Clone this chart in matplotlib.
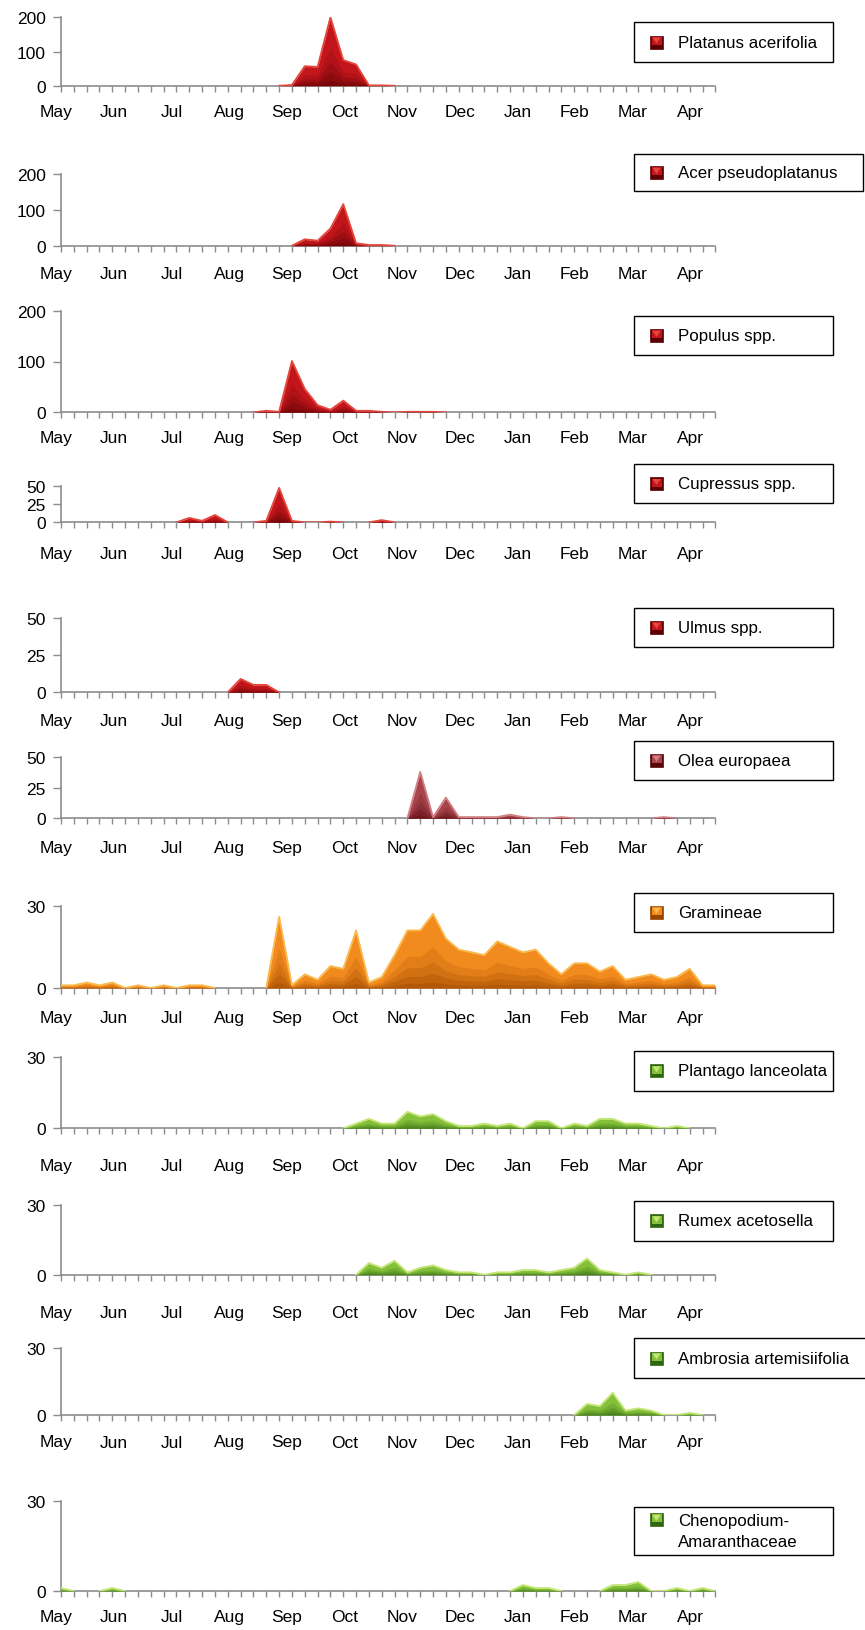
import numpy as np
import matplotlib
matplotlib.use("Agg")
import matplotlib.pyplot as plt
from matplotlib.patches import Rectangle, Polygon

plt.rcParams['font.family'] = ['Liberation Sans', 'DejaVu Sans']

# ---- data (weekly pollen counts, May -> Apr, 52 weeks) ----
months = ["May", "Jun", "Jul", "Aug", "Sep", "Oct", "Nov", "Dec", "Jan", "Feb", "Mar", "Apr"]

platanus = [0, 0, 0, 0, 0, 0, 0, 0, 0, 0, 0, 0, 0, 0, 0, 0, 0, 0, 2, 57,
            55, 200, 75, 62, 1, 1, 0, 0, 0, 0, 0, 0, 0, 0, 0, 0, 0, 0, 0, 0,
            0, 0, 0, 0, 0, 0, 0, 0, 0, 0, 0, 0]
acer = [0, 0, 0, 0, 0, 0, 0, 0, 0, 0, 0, 0, 0, 0, 0, 0, 0, 0, 0, 18,
        14, 48, 116, 7, 2, 2, 0, 0, 0, 0, 0, 0, 0, 0, 0, 0, 0, 0, 0, 0,
        0, 0, 0, 0, 0, 0, 0, 0, 0, 0, 0, 0]
populus = [0, 0, 0, 0, 0, 0, 0, 0, 0, 0, 0, 0, 0, 0, 0, 0, 3, 1, 101, 46,
           14, 5, 23, 3, 3, 1, 0, 1, 1, 1, 0, 0, 0, 0, 0, 0, 0, 0, 0, 0,
           0, 0, 0, 0, 0, 0, 0, 0, 0, 0, 0, 0]
cupressus = [0, 0, 0, 0, 0, 0, 0, 0, 0, 0, 6, 2, 10, 0, 0, 0, 2, 47, 2, 0,
             0, 1, 0, 0, 0, 3, 0, 0, 0, 0, 0, 0, 0, 0, 0, 0, 0, 0, 0, 0,
             0, 0, 0, 0, 0, 0, 0, 0, 0, 0, 0, 0]
ulmus = [0, 0, 0, 0, 0, 0, 0, 0, 0, 0, 0, 0, 0, 0, 9, 5, 5, 0, 0, 0,
         0, 0, 0, 0, 0, 0, 0, 0, 0, 0, 0, 0, 0, 0, 0, 0, 0, 0, 0, 0,
         0, 0, 0, 0, 0, 0, 0, 0, 0, 0, 0, 0]
olea = [0, 0, 0, 0, 0, 0, 0, 0, 0, 0, 0, 0, 0, 0, 0, 0, 0, 0, 0, 0,
        0, 0, 0, 0, 0, 0, 0, 0, 38, 1, 17, 1, 1, 1, 1, 3, 1, 0, 0, 1,
        0, 0, 0, 0, 0, 0, 0, 1, 0, 0, 0, 0]
gramineae = [1, 1, 2, 1, 2, 0, 1, 0, 1, 0, 1, 1, 0, 0, 0, 0, 0, 26, 1, 5,
             3, 8, 7, 21, 2, 4, 12, 21, 21, 27, 18, 14, 13, 12, 17, 15, 13, 14, 9, 5,
             9, 9, 6, 8, 3, 4, 5, 3, 4, 7, 1, 1]
plantago = [0, 0, 0, 0, 0, 0, 0, 0, 0, 0, 0, 0, 0, 0, 0, 0, 0, 0, 0, 0,
            0, 0, 0, 2, 4, 2, 2, 7, 5, 6, 3, 1, 1, 2, 1, 2, 0, 3, 3, 0,
            2, 1, 4, 4, 2, 2, 1, 0, 1, 0, 0, 0]
rumex = [0, 0, 0, 0, 0, 0, 0, 0, 0, 0, 0, 0, 0, 0, 0, 0, 0, 0, 0, 0,
         0, 0, 0, 0, 5, 3, 6, 1, 3, 4, 2, 1, 1, 0, 1, 1, 2, 2, 1, 2,
         3, 7, 2, 1, 0, 1, 0, 0, 0, 0, 0, 0]
ambrosia = [0, 0, 0, 0, 0, 0, 0, 0, 0, 0, 0, 0, 0, 0, 0, 0, 0, 0, 0, 0,
            0, 0, 0, 0, 0, 0, 0, 0, 0, 0, 0, 0, 0, 0, 0, 0, 0, 0, 0, 0,
            0, 5, 4, 10, 2, 3, 2, 0, 0, 1, 0, 0]
chenopodium = [1, 0, 0, 0, 1, 0, 0, 0, 0, 0, 0, 0, 0, 0, 0, 0, 0, 0, 0, 0,
               0, 0, 0, 0, 0, 0, 0, 0, 0, 0, 0, 0, 0, 0, 0, 0, 2, 1, 1, 0,
               0, 0, 0, 2, 2, 3, 0, 0, 1, 0, 1, 0]

# colour schemes: (main, dark bottom, light edge)
RED = ("#c3161c", "#5a0003", "#e4473c")
ROSE = ("#a8454c", "#5a050b", "#d08084")
ORANGE = ("#f28b1e", "#9a4400", "#fbb94c")
GREEN = ("#84c03a", "#2f6610", "#c4e676")

# name, data, ymax, yticks, colours, y-top px, y-zero px, month label offset px,
# legend top px, legend bottom px, legend right px
panels = [
    ("Platanus acerifolia", platanus, 200, [0, 100, 200], RED, 18.3, 86.7, 26, 23.3, 62.7, 833),
    ("Acer pseudoplatanus", acer, 200, [0, 100, 200], RED, 175, 246.7, 28, 155, 191.7, 863),
    ("Populus spp.", populus, 200, [0, 100, 200], RED, 311.7, 413.3, 25, 316.7, 356, 833),
    ("Cupressus spp.", cupressus, 50, [0, 25, 50], RED, 486.7, 523.3, 31, 465, 504, 833),
    ("Ulmus spp.", ulmus, 50, [0, 25, 50], RED, 619, 693.3, 28, 609, 647.7, 833),
    ("Olea europaea", olea, 50, [0, 25, 50], ROSE, 758.3, 819.3, 29, 741.7, 780.7, 833),
    ("Gramineae", gramineae, 30, [0, 30], ORANGE, 906.7, 989, 30, 894, 932.7, 833),
    ("Plantago lanceolata", plantago, 30, [0, 30], GREEN, 1058.3, 1129.3, 37, 1052, 1091.7, 833),
    ("Rumex acetosella", rumex, 30, [0, 30], GREEN, 1206, 1275.7, 38, 1202, 1241.7, 833),
    ("Ambrosia artemisiifolia", ambrosia, 30, [0, 30], GREEN, 1349.3, 1416, 27, 1339, 1379, 870),
    ("Chenopodium-\nAmaranthaceae", chenopodium, 30, [0, 30], GREEN, 1502, 1592, 26, 1508, 1555.7, 833),
]

W, H = 865, 1631
AX_LEFT, WEEK_PX = 61, 12.83
GRAY = "#8c8c8c"
FS = 12.5
LEG_FS = 12.2

fig = plt.figure(figsize=(W / 100, H / 100), dpi=100)


def fx(px):
    return px / W


def fy(px):
    return 1 - px / H


for name, vals, ymax, yticks, (c_main, c_dark, c_light), ytop, y0, lab_off, lt, lb, lr in panels:
    y = np.asarray(vals, dtype=float)
    x = np.arange(len(y))
    ax = fig.add_axes([fx(AX_LEFT), fy(y0), (len(y) - 1) * WEEK_PX / W, (y0 - ytop) / H])

    # pseudo 3-D area: main body, darkening towards the base, light top edge
    ax.fill_between(x, 0, y, color=c_main, lw=0, zorder=2)
    for frac, a in ((0.55, 0.18), (0.35, 0.22), (0.2, 0.28), (0.08, 0.35)):
        ax.fill_between(x, 0, y * frac, color=c_dark, lw=0, zorder=2.1, alpha=a)
    active = y > 0
    near = active | np.r_[active[1:], False] | np.r_[False, active[:-1]]
    ax.plot(x, np.ma.masked_where(~near, y), color=c_light, lw=1.3, zorder=2.2)

    ax.set_xlim(0, len(y) - 1)
    ax.set_ylim(0, ymax)
    ax.patch.set_alpha(0)
    for s in ("top", "right"):
        ax.spines[s].set_visible(False)
    for s in ("left", "bottom"):
        ax.spines[s].set_color(GRAY)
        ax.spines[s].set_linewidth(1.2)
        ax.spines[s].set_zorder(1.5)

    ax.set_xticks(x)
    ax.set_xticklabels([])
    ax.tick_params(axis="x", direction="out", length=4, width=1, color=GRAY)
    ax.set_yticks(yticks)
    ax.set_yticklabels([str(t) for t in yticks], fontsize=FS)
    ax.tick_params(axis="y", direction="out", length=5.5, width=1, color=GRAY, pad=5.5)

    for k, m in enumerate(months):
        ax.annotate(m, (-0.35 + 4.49 * k, 0), xytext=(0, -lab_off), textcoords="offset pixels",
                    ha="center", va="center", fontsize=FS, annotation_clip=False)

    # legend box
    fig.add_artist(Rectangle((fx(634), fy(lb)), fx(lr - 634), (lb - lt) / H,
                             transform=fig.transFigure, facecolor="white",
                             edgecolor="black", lw=1.0, clip_on=False))
    nlines = name.count("\n") + 1
    first_line = (lt + lb) / 2 - (nlines - 1) * 11.5
    mx, msz = 650, 13
    fig.add_artist(Rectangle((fx(mx), fy(first_line + msz / 2)), fx(msz), msz / H,
                             transform=fig.transFigure, facecolor=c_dark, edgecolor=c_dark, lw=0.5))
    fig.add_artist(Rectangle((fx(mx + 1.5), fy(first_line + 3)), fx(msz - 3), (msz - 5) / H,
                             transform=fig.transFigure, facecolor=c_main, lw=0))
    fig.add_artist(Polygon([(fx(mx + 2.5), fy(first_line - msz / 2 + 2)),
                            (fx(mx + msz - 2.5), fy(first_line - msz / 2 + 2)),
                            (fx(mx + msz / 2), fy(first_line + 1.5))],
                           closed=True, transform=fig.transFigure, facecolor=c_light, lw=0))
    fig.text(fx(678), fy((lt + lb) / 2), name, ha="left", va="center", fontsize=LEG_FS,
             linespacing=1.45)

fig.savefig("out.png", dpi=100)
